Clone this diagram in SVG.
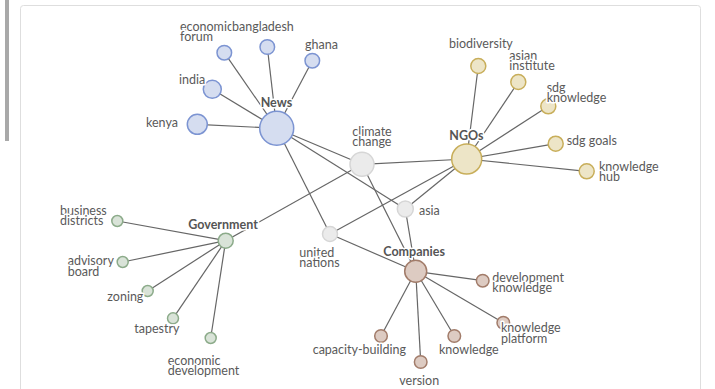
<svg xmlns="http://www.w3.org/2000/svg" width="715" height="389" viewBox="0 0 715 389">
<style>
.edge{stroke:#666;stroke-width:1.2;fill:none}
.n{stroke-width:1.5}
.news{fill:#d5ddf0;stroke:#7c94d2}
.ngo{fill:#ede5c7;stroke:#c8ae5a}
.gov{fill:#d9e3d8;stroke:#8cab8a}
.com{fill:#ddcbc2;stroke:#a27c6a}
.sh{fill:#ebebeb;stroke:#d6d6d6}
text{font-family:Lato,"Liberation Sans",sans-serif;font-size:12.5px;fill:#5a5a5a;stroke:#fff;stroke-width:3;paint-order:stroke;stroke-linejoin:round}
text.b{font-weight:bold;fill:#555}
</style>
<rect x="0" y="0" width="715" height="389" fill="#fff"/>
<rect x="5" y="0" width="4" height="141" fill="#a9a9a9"/>
<rect x="20.5" y="5.5" width="680" height="400" rx="3" fill="#fff" stroke="#dedede"/>
<g id="connectors">
<line class="edge" x1="276.7" y1="128.3" x2="197.3" y2="124.3"/>
<line class="edge" x1="276.7" y1="128.3" x2="212.3" y2="89.3"/>
<line class="edge" x1="276.7" y1="128.3" x2="224.3" y2="52.7"/>
<line class="edge" x1="276.7" y1="128.3" x2="267.3" y2="47"/>
<line class="edge" x1="276.7" y1="128.3" x2="312.3" y2="60.7"/>
<line class="edge" x1="276.7" y1="128.3" x2="362" y2="164.3"/>
<line class="edge" x1="276.7" y1="128.3" x2="405.3" y2="209"/>
<line class="edge" x1="276.7" y1="128.3" x2="330" y2="234"/>
<line class="edge" x1="466.7" y1="159" x2="478.3" y2="66"/>
<line class="edge" x1="466.7" y1="159" x2="518.3" y2="82"/>
<line class="edge" x1="466.7" y1="159" x2="548.3" y2="106.3"/>
<line class="edge" x1="466.7" y1="159" x2="555.7" y2="143.7"/>
<line class="edge" x1="466.7" y1="159" x2="586.7" y2="171.3"/>
<line class="edge" x1="466.7" y1="159" x2="362" y2="164.3"/>
<line class="edge" x1="466.7" y1="159" x2="405.3" y2="209"/>
<line class="edge" x1="466.7" y1="159" x2="330" y2="234"/>
<line class="edge" x1="225.7" y1="240.7" x2="117.3" y2="221"/>
<line class="edge" x1="225.7" y1="240.7" x2="122.7" y2="262"/>
<line class="edge" x1="225.7" y1="240.7" x2="147.7" y2="291"/>
<line class="edge" x1="225.7" y1="240.7" x2="173" y2="318.3"/>
<line class="edge" x1="225.7" y1="240.7" x2="210.7" y2="338"/>
<line class="edge" x1="225.7" y1="240.7" x2="362" y2="164.3"/>
<line class="edge" x1="415.7" y1="271.3" x2="482.7" y2="280.7"/>
<line class="edge" x1="415.7" y1="271.3" x2="503.3" y2="322.7"/>
<line class="edge" x1="415.7" y1="271.3" x2="454.3" y2="336"/>
<line class="edge" x1="415.7" y1="271.3" x2="420.7" y2="362"/>
<line class="edge" x1="415.7" y1="271.3" x2="381" y2="336"/>
<line class="edge" x1="415.7" y1="271.3" x2="330" y2="234"/>
<line class="edge" x1="415.7" y1="271.3" x2="405.3" y2="209"/>
<line class="edge" x1="415.7" y1="271.3" x2="362" y2="164.3"/>
</g>
<g id="news"><circle class="n news" cx="276.7" cy="128.3" r="17"/></g>
<g id="kenya"><circle class="n news" cx="197.3" cy="124.3" r="10"/></g>
<g id="india"><circle class="n news" cx="212.3" cy="89.3" r="9"/></g>
<g id="economic-forum"><circle class="n news" cx="224.3" cy="52.7" r="7.3"/></g>
<g id="bangladesh"><circle class="n news" cx="267.3" cy="47" r="7.3"/></g>
<g id="ghana"><circle class="n news" cx="312.3" cy="60.7" r="7.3"/></g>
<g id="ngos"><circle class="n ngo" cx="466.7" cy="159" r="15"/></g>
<g id="biodiversity"><circle class="n ngo" cx="478.3" cy="66" r="7.5"/></g>
<g id="asian-institute"><circle class="n ngo" cx="518.3" cy="82" r="7.5"/></g>
<g id="sdg-knowledge"><circle class="n ngo" cx="548.3" cy="106.3" r="7.5"/></g>
<g id="sdg-goals"><circle class="n ngo" cx="555.7" cy="143.7" r="7.5"/></g>
<g id="knowledge-hub"><circle class="n ngo" cx="586.7" cy="171.3" r="7.5"/></g>
<g id="climate-change"><circle class="n sh" cx="362" cy="164.3" r="12"/></g>
<g id="asia"><circle class="n sh" cx="405.3" cy="209" r="8"/></g>
<g id="united-nations"><circle class="n sh" cx="330" cy="234" r="7.5"/></g>
<g id="government"><circle class="n gov" cx="225.7" cy="240.7" r="7.5"/></g>
<g id="business-districts"><circle class="n gov" cx="117.3" cy="221" r="5.5"/></g>
<g id="advisory-board"><circle class="n gov" cx="122.7" cy="262" r="5.5"/></g>
<g id="zoning"><circle class="n gov" cx="147.7" cy="291" r="5.5"/></g>
<g id="tapestry"><circle class="n gov" cx="173" cy="318.3" r="5.5"/></g>
<g id="economic-development"><circle class="n gov" cx="210.7" cy="338" r="5.5"/></g>
<g id="companies"><circle class="n com" cx="415.7" cy="271.3" r="11"/></g>
<g id="development-knowledge"><circle class="n com" cx="482.7" cy="280.7" r="6.3"/></g>
<g id="knowledge-platform"><circle class="n com" cx="503.3" cy="322.7" r="6.3"/></g>
<g id="knowledge"><circle class="n com" cx="454.3" cy="336" r="6.3"/></g>
<g id="version"><circle class="n com" cx="420.7" cy="362" r="6.3"/></g>
<g id="capacity-building"><circle class="n com" cx="381" cy="336" r="6.3"/></g>
<g id="labels">
<text x="180" y="30.5">economic</text><text x="180" y="40.5">forum</text>
<text x="232" y="30.5">bangladesh</text>
<text x="305" y="48.5">ghana</text>
<text x="179" y="83.5">india</text>
<text x="146" y="126.5">kenya</text>
<text class="b" x="260.7" y="106.5">News</text>
<text x="449" y="48">biodiversity</text>
<text x="509.3" y="59.5">asian</text><text x="509.3" y="70">institute</text>
<text x="546.7" y="92">sdg</text><text x="546.7" y="102">knowledge</text>
<text x="566.7" y="144.5">sdg goals</text>
<text x="599" y="170.5">knowledge</text><text x="599" y="181">hub</text>
<text x="352.3" y="135.5">climate</text><text x="352.3" y="146">change</text>
<text class="b" x="449.3" y="139.5">NGOs</text>
<text x="60" y="214.5">business</text><text x="60" y="225">districts</text>
<text x="67.7" y="265">advisory</text><text x="67.7" y="275.5">board</text>
<text x="107.3" y="301">zoning</text>
<text x="134.3" y="333">tapestry</text>
<text x="167.7" y="364.5">economic</text><text x="167.7" y="375">development</text>
<text class="b" x="188.3" y="228.5">Government</text>
<text x="299.3" y="256.5">united</text><text x="299.3" y="267">nations</text>
<text x="419" y="215">asia</text>
<text class="b" x="383.3" y="256">Companies</text>
<text x="492.3" y="282">development</text><text x="492.3" y="292">knowledge</text>
<text x="501" y="332">knowledge</text><text x="501" y="342.5">platform</text>
<text x="312.7" y="353.5">capacity-building</text>
<text x="439" y="353.5">knowledge</text>
<text x="399.3" y="384.5">version</text>
</g>
</svg>
